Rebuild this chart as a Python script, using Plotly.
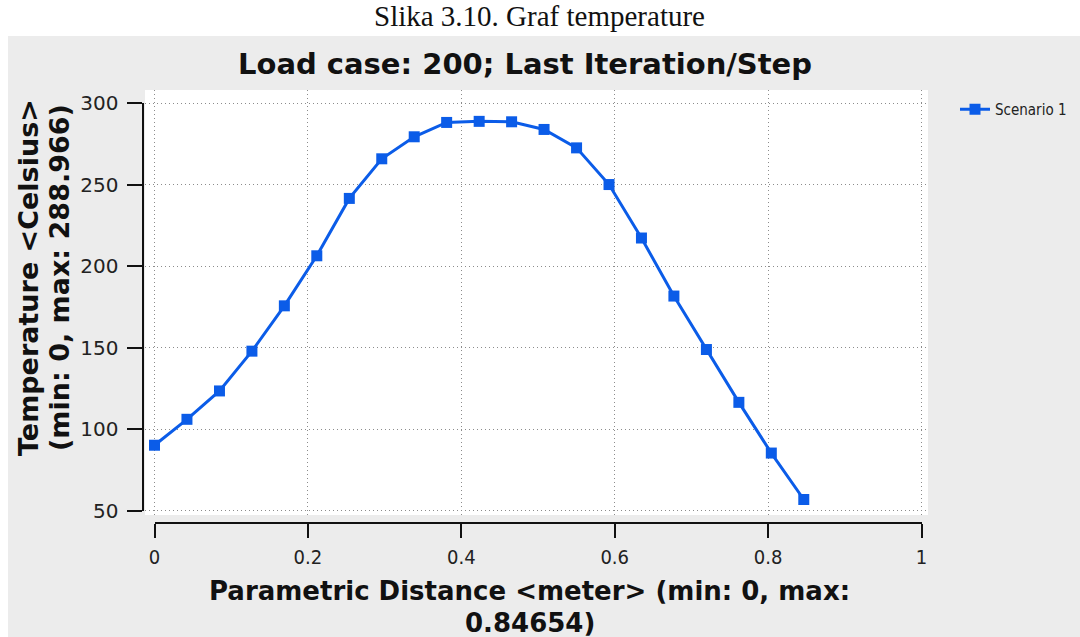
import plotly.graph_objects as go

# Temperature along the parametric path (load case 200, last step)
distance_m = [0.0, 0.0423, 0.0847, 0.1270, 0.1693, 0.2116, 0.2540, 0.2963, 0.3386,
              0.3809, 0.4233, 0.4656, 0.5079, 0.5503, 0.5926, 0.6349, 0.6772,
              0.7196, 0.7619, 0.8042, 0.84654]
temperature_c = [90.3, 106.2, 123.6, 148.0, 175.8, 206.5, 241.7, 266.0, 279.5,
                 288.3, 288.966, 288.7, 284.0, 272.7, 250.2, 217.4, 181.8,
                 149.0, 116.6, 85.5, 57.0]
series_name = "Scenario 1"

x_ticks = [0, 0.2, 0.4, 0.6, 0.8, 1]
x_tick_text = ["0", "0.2", "0.4", "0.6", "0.8", "1"]
y_ticks = [50, 100, 150, 200, 250, 300]

caption = "Slika 3.10. Graf temperature"
title = "Load case: 200; Last Iteration/Step"
x_title = ["Parametric Distance &lt;meter&gt; (min: 0, max:", "0.84654)"]
y_title = ["Temperature &lt;Celsius&gt;", "(min: 0, max: 288.966)"]

W, H = 1080, 637
COND = "DejaVu Sans Condensed, DejaVu Sans, sans-serif"
WIDE = "DejaVu Sans, sans-serif"
BLUE = "#0b5ce8"
GRAY_BG = "#ececec"


def px(x):
    return x / W


def py(y):
    return 1 - y / H


grid = dict(showgrid=True, gridcolor="#8c8c8c", gridwidth=1, griddash="1px,3px",
            zeroline=False, showline=False, ticks="", showticklabels=False,
            automargin=False)

fig = go.Figure()
fig.add_trace(go.Scatter(
    x=distance_m, y=temperature_c, name=series_name, mode="lines+markers",
    line=dict(color=BLUE, width=3),
    marker=dict(symbol="square", size=11, color=BLUE),
    showlegend=True,
))
# empty trace that carries the offset axis frame
fig.add_trace(go.Scatter(x=[], y=[], xaxis="x2", yaxis="y2", showlegend=False,
                         hoverinfo="skip"))

frame = dict(showline=True, linecolor="#111", linewidth=2, ticks="outside",
             tickwidth=2, tickcolor="#111", showgrid=False, zeroline=False,
             automargin=False)

fig.update_layout(
    width=W, height=H,
    margin=dict(l=0, r=0, t=0, b=0, pad=0, autoexpand=False),
    paper_bgcolor="white",
    plot_bgcolor="rgba(0,0,0,0)",
    xaxis=dict(domain=[px(145), px(928)], range=[-0.0124, 1.0085],
               tickvals=x_ticks, **grid),
    yaxis=dict(domain=[py(515), py(90)], range=[47.5, 308.2],
               tickvals=y_ticks, **grid),
    xaxis2=dict(domain=[px(154.5), px(921.5)], range=[0, 1], anchor="free",
                position=py(522.5), ticklen=14, tickvals=x_ticks,
                ticktext=x_tick_text, ticklabelstandoff=2,
                tickfont=dict(family=COND, size=20, color="#222"), **frame),
    yaxis2=dict(domain=[py(511), py(103.3)], range=[50, 300], anchor="free",
                position=px(142.5), ticklen=15, tickvals=y_ticks,
                ticklabelstandoff=4,
                tickfont=dict(family=WIDE, size=20, color="#222"), **frame),
    legend=dict(x=px(955), y=py(93), xanchor="left", yanchor="top",
                bgcolor="rgba(0,0,0,0)", font=dict(family=COND, size=15, color="#222"),
                itemwidth=30, tracegroupgap=0),
    shapes=[
        dict(type="rect", xref="paper", yref="paper", x0=px(8), x1=1.01,
             y0=-0.01, y1=py(36), fillcolor=GRAY_BG, line_width=0, layer="below"),
        dict(type="rect", xref="paper", yref="paper", x0=px(145), x1=px(928),
             y0=py(515), y1=py(90), fillcolor="white", line_width=0, layer="below"),
    ],
    showlegend=True,
)

annotations = [
    dict(text=caption, x=px(539), y=py(16),
         font=dict(family="Liberation Serif, DejaVu Serif, serif", size=29, color="#111")),
    dict(text="<b>" + title + "</b>", x=px(525), y=py(64),
         font=dict(family=WIDE, size=29, color="#111")),
    dict(text="<b>" + x_title[0] + "</b>", x=px(529), y=py(591),
         font=dict(family=WIDE, size=26, color="#111")),
    dict(text="<b>" + x_title[1] + "</b>", x=px(530), y=py(623),
         font=dict(family=WIDE, size=26, color="#111")),
    dict(text="<b>" + y_title[0] + "</b>", x=px(28), y=py(278), textangle=-90,
         font=dict(family=WIDE, size=27, color="#111")),
    dict(text="<b>" + y_title[1] + "</b>", x=px(59), y=py(278), textangle=-90,
         font=dict(family=WIDE, size=27, color="#111")),
]
for a in annotations:
    a.update(xref="paper", yref="paper", xanchor="center", yanchor="middle",
             showarrow=False)
fig.update_layout(annotations=annotations)

fig.write_html("out.html")
